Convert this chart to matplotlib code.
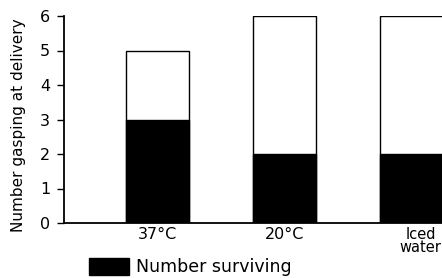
import matplotlib.pyplot as plt
import matplotlib.transforms as mtransforms
from matplotlib.patches import Patch

conditions = ["37°C", "20°C", "Iced\nwater"]
gasping = [5, 6, 6]
surviving = [3, 2, 2]
y_ticks = [0, 1, 2, 3, 4, 5, 6]

plt.rcParams["font.family"] = ["DejaVu Sans"]

fig = plt.figure(figsize=(4.42, 2.78), dpi=100)
ax = fig.add_axes([64 / 442, 55 / 278, 1 - 64 / 442, 207 / 278])

x = list(range(len(conditions)))
ax.bar(x, gasping, width=0.5, color="white", edgecolor="black", linewidth=1.0)
ax.bar(x, surviving, width=0.5, color="black", edgecolor="black", linewidth=1.0)

ax.set_xlim(-0.736, 2.24)
ax.set_ylim(0, 6)
ax.set_yticks(y_ticks)
ax.tick_params(axis="y", direction="out", length=5, width=1, labelsize=11.5, pad=5)
ax.set_xticks(x)
ax.set_xticklabels(conditions, fontsize=11.5, linespacing=0.85)
ax.tick_params(axis="x", length=0, pad=3)
# the last label is smaller and sits a bit right of its bar in the original
last = ax.get_xticklabels()[-1]
last.set_fontsize(10.5)
last.set_transform(last.get_transform() + mtransforms.ScaledTranslation(9 / 100, 0, fig.dpi_scale_trans))
ax.set_ylabel("Number gasping at delivery", fontsize=11)
ax.yaxis.set_label_coords(-0.10, 0.473)

for side in ["top", "right"]:
    ax.spines[side].set_visible(False)
for side in ["left", "bottom"]:
    ax.spines[side].set_linewidth(1.3)

handle = Patch(facecolor="black", edgecolor="black")
fig.legend(handles=[handle], labels=["Number surviving"], loc="lower left",
           bbox_to_anchor=(73 / 442, -0.05), frameon=False, fontsize=12.5,
           handlelength=2.3, handleheight=1.1, handletextpad=0.4)

fig.savefig("out.png", dpi=100)
